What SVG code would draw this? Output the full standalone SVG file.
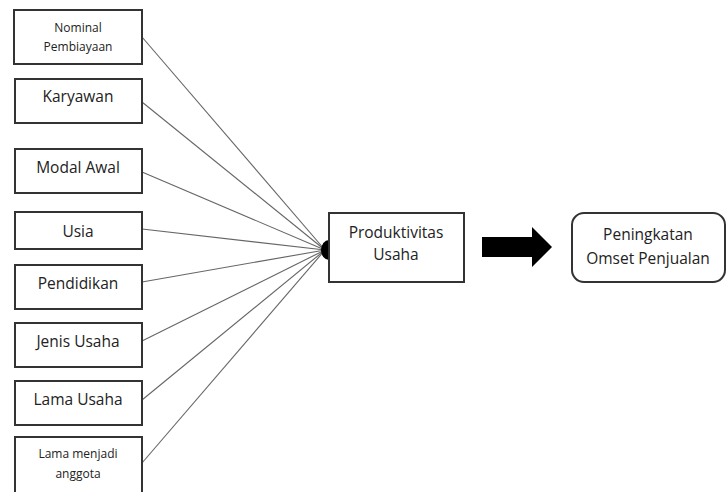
<svg xmlns="http://www.w3.org/2000/svg" width="726" height="492" viewBox="0 0 726 492">
<style>
.box{fill:#fff;stroke:#333;stroke-width:2}
.t{font-family:"Open Sans","Liberation Sans",sans-serif;font-size:15.5px;fill:#222;text-anchor:middle}
.s{font-size:12px}
.ln{stroke:#666;stroke-width:1.1;fill:none}
</style>
<rect width="726" height="492" fill="#fff"/>
<g id="connectors">
<line class="ln" x1="142" y1="37" x2="325" y2="250"/>
<line class="ln" x1="142" y1="102" x2="325" y2="250"/>
<line class="ln" x1="142" y1="172" x2="325" y2="250"/>
<line class="ln" x1="142" y1="229" x2="325" y2="250"/>
<line class="ln" x1="142" y1="282" x2="325" y2="250"/>
<line class="ln" x1="142" y1="341" x2="325" y2="250"/>
<line class="ln" x1="142" y1="400" x2="325" y2="250"/>
<line class="ln" x1="142" y1="463" x2="325" y2="250"/>
<path d="M329,240 A8,10 0 0 0 329,260 Z" fill="#000"/>
<polygon points="482,237 532,237 532,227 552,247 532,267 532,257 482,257" fill="#000"/>
</g>
<g id="nominal"><rect class="box" x="14" y="10" width="128" height="54"/><text class="t s" x="78" y="32">Nominal</text><text class="t s" x="78" y="51">Pembiayaan</text></g>
<g id="karyawan"><rect class="box" x="15" y="79" width="127" height="44"/><text class="t" x="78" y="102">Karyawan</text></g>
<g id="modal"><rect class="box" x="15" y="149" width="127" height="44"/><text class="t" x="78" y="173">Modal Awal</text></g>
<g id="usia"><rect class="box" x="15" y="212" width="127" height="37"/><text class="t" x="78" y="237">Usia</text></g>
<g id="pendidikan"><rect class="box" x="15" y="265" width="127" height="44"/><text class="t" x="78" y="289">Pendidikan</text></g>
<g id="jenis"><rect class="box" x="15" y="323" width="127" height="44"/><text class="t" x="78" y="347">Jenis Usaha</text></g>
<g id="lama"><rect class="box" x="15" y="381" width="127" height="44"/><text class="t" x="78" y="405">Lama Usaha</text></g>
<g id="anggota"><rect class="box" x="15" y="437" width="127" height="56"/><text class="t s" x="78" y="458">Lama menjadi</text><text class="t s" x="78" y="478">anggota</text></g>
<g id="produktivitas"><rect class="box" x="329" y="213" width="135" height="69"/><text class="t" x="396" y="238">Produktivitas</text><text class="t" x="396" y="260">Usaha</text></g>
<g id="omset"><rect class="box" x="572" y="213" width="153" height="69" rx="12"/><text class="t" x="648" y="240">Peningkatan</text><text class="t" x="648" y="264">Omset Penjualan</text></g>
</svg>
